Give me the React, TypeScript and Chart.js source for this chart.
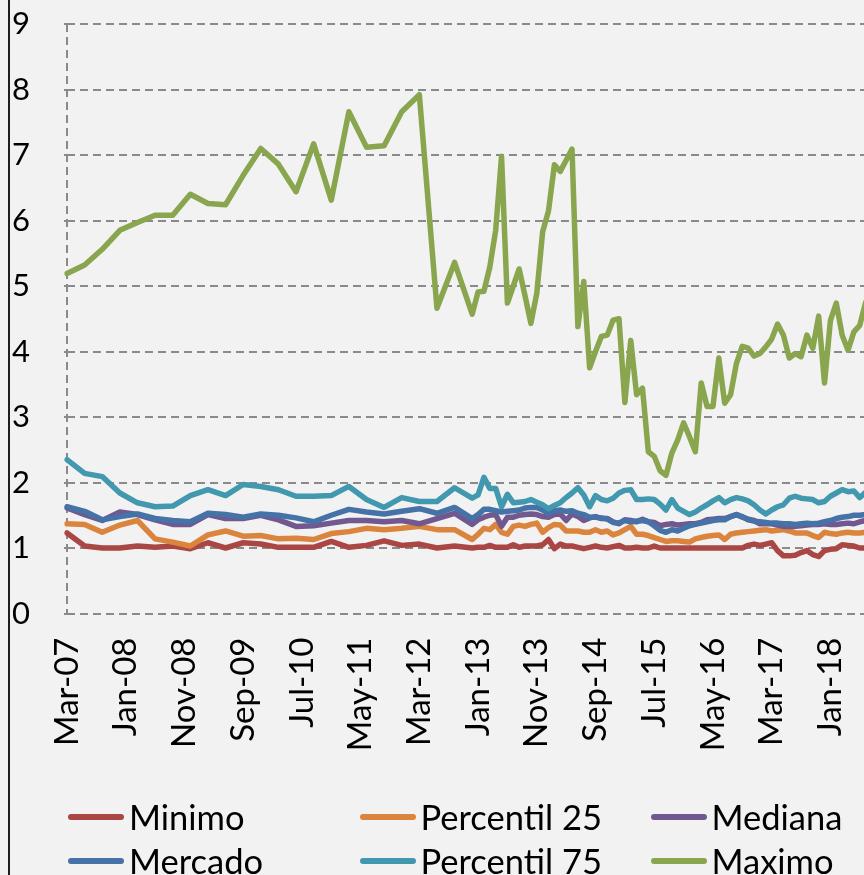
import React, { useEffect, useRef } from "react";
import { Chart, registerables } from "chart.js";

Chart.register(...registerables);

const MONTH_NAMES = ["Jan", "Feb", "Mar", "Apr", "May", "Jun", "Jul", "Aug", "Sep", "Oct", "Nov", "Dec"];
const START_MONTH = 2; // Mar
const START_YEAR = 2007;
const MONTH_COUNT = 137; // Mar-07 .. Jul-18
const QUARTERLY_LAST = 69; // Dec-12: quarterly observations up to here, monthly after
const TICK_LABELS = ["Mar-07", "Jan-08", "Nov-08", "Sep-09", "Jul-10", "May-11", "Mar-12", "Jan-13", "Nov-13", "Sep-14", "Jul-15", "May-16", "Mar-17", "Jan-18"];
const Y_TICKS = [0, 1, 2, 3, 4, 5, 6, 7, 8, 9];

const SERIES_NAMES = ["Minimo", "Percentil 25", "Mediana", "Mercado", "Percentil 75", "Maximo"];
const SERIES_COLORS = ["#AA4643", "#DB843D", "#71588F", "#4572A7", "#4198AF", "#89A54E"];

// quarterly values Mar-07 .. Dec-12 (every 3rd month)
const minimoQ = [1.23, 1.03, 1.0, 1.0, 1.03, 1.01, 1.03, 0.99, 1.08, 1.0, 1.08, 1.06, 1.01, 1.01, 1.01, 1.1, 1.01, 1.04, 1.11, 1.04, 1.06, 1.0, 1.03, 1.0];
const p25Q = [1.37, 1.36, 1.24, 1.35, 1.42, 1.14, 1.09, 1.03, 1.2, 1.26, 1.18, 1.19, 1.14, 1.15, 1.13, 1.22, 1.25, 1.3, 1.28, 1.3, 1.33, 1.28, 1.28, 1.13];
const medianaQ = [1.61, 1.51, 1.42, 1.55, 1.51, 1.43, 1.36, 1.36, 1.51, 1.45, 1.45, 1.5, 1.43, 1.33, 1.34, 1.38, 1.42, 1.42, 1.4, 1.42, 1.37, 1.45, 1.53, 1.36];
const mercadoQ = [1.63, 1.56, 1.43, 1.48, 1.52, 1.45, 1.42, 1.4, 1.53, 1.51, 1.47, 1.52, 1.5, 1.46, 1.4, 1.5, 1.59, 1.55, 1.52, 1.56, 1.6, 1.53, 1.62, 1.45];
const p75Q = [2.35, 2.14, 2.09, 1.84, 1.69, 1.63, 1.64, 1.8, 1.89, 1.8, 1.97, 1.94, 1.89, 1.79, 1.79, 1.8, 1.94, 1.74, 1.62, 1.77, 1.71, 1.71, 1.92, 1.76];
const maximoQ = [5.19, 5.32, 5.56, 5.85, 5.97, 6.08, 6.08, 6.4, 6.26, 6.24, 6.69, 7.1, 6.86, 6.44, 7.17, 6.31, 7.66, 7.12, 7.14, 7.66, 7.92, 4.66, 5.36, 4.57];

// monthly values Jan-13 .. Jul-18
const minimoM = [1.01, 1.01, 1.04, 1.01, 1.01, 1.01, 1.05, 1.01, 1.03, 1.03,
  1.03, 1.05, 1.13, 0.99, 1.06, 1.03, 1.03, 1.01, 0.99, 1.01,
  1.03, 1.01, 1.0, 1.02, 1.04, 1.0, 1.0, 1.01, 1.0, 1.0,
  1.03, 1.0, 1.0, 1.0, 1.0, 1.0, 1.0, 1.0, 1.0, 1.0,
  1.0, 1.0, 1.0, 1.0, 1.0, 1.0, 1.04, 1.06, 1.04, 1.06,
  1.08, 0.96, 0.88, 0.88, 0.89, 0.93, 0.96, 0.9, 0.87, 0.96,
  0.98, 0.99, 1.05, 1.04, 1.03, 1.0, 1.0];
const p25M = [1.21, 1.3, 1.28, 1.36, 1.24, 1.21, 1.33, 1.35, 1.33, 1.36,
  1.38, 1.24, 1.31, 1.36, 1.35, 1.26, 1.26, 1.26, 1.24, 1.24,
  1.28, 1.24, 1.26, 1.2, 1.23, 1.28, 1.33, 1.21, 1.21, 1.19,
  1.16, 1.13, 1.1, 1.11, 1.11, 1.1, 1.09, 1.14, 1.16, 1.18,
  1.19, 1.2, 1.13, 1.21, 1.23, 1.24, 1.25, 1.26, 1.27, 1.28,
  1.26, 1.27, 1.28, 1.26, 1.23, 1.23, 1.23, 1.19, 1.16, 1.24,
  1.22, 1.21, 1.23, 1.24, 1.23, 1.23, 1.24];
const medianaM = [1.43, 1.47, 1.5, 1.51, 1.33, 1.47, 1.47, 1.5, 1.51, 1.52,
  1.51, 1.48, 1.47, 1.51, 1.52, 1.42, 1.52, 1.48, 1.42, 1.46,
  1.48, 1.45, 1.45, 1.4, 1.37, 1.43, 1.42, 1.4, 1.44, 1.4,
  1.39, 1.34, 1.36, 1.37, 1.35, 1.36, 1.37, 1.37, 1.39, 1.43,
  1.44, 1.45, 1.45, 1.48, 1.51, 1.47, 1.44, 1.42, 1.37, 1.37,
  1.37, 1.35, 1.33, 1.33, 1.33, 1.34, 1.35, 1.36, 1.36, 1.37,
  1.36, 1.36, 1.37, 1.38, 1.37, 1.4, 1.42];
const mercadoM = [1.51, 1.59, 1.59, 1.57, 1.55, 1.56, 1.57, 1.58, 1.61, 1.62,
  1.62, 1.58, 1.53, 1.57, 1.58, 1.56, 1.57, 1.53, 1.51, 1.47,
  1.47, 1.46, 1.44, 1.39, 1.38, 1.42, 1.4, 1.41, 1.42, 1.4,
  1.34, 1.27, 1.24, 1.28, 1.26, 1.3, 1.34, 1.36, 1.38, 1.4,
  1.42, 1.43, 1.43, 1.48, 1.51, 1.48, 1.43, 1.41, 1.4, 1.39,
  1.38, 1.38, 1.37, 1.37, 1.36, 1.37, 1.38, 1.37, 1.38, 1.4,
  1.42, 1.45, 1.47, 1.48, 1.5, 1.5, 1.51];
const p75M = [1.81, 2.08, 1.91, 1.91, 1.63, 1.82, 1.69, 1.7, 1.71, 1.74,
  1.7, 1.66, 1.6, 1.65, 1.69, 1.77, 1.84, 1.92, 1.81, 1.63,
  1.8, 1.74, 1.72, 1.76, 1.84, 1.88, 1.89, 1.74, 1.74, 1.75,
  1.74, 1.67, 1.58, 1.74, 1.61, 1.56, 1.51, 1.55, 1.61, 1.66,
  1.72, 1.77, 1.69, 1.74, 1.77, 1.75, 1.72, 1.66, 1.58, 1.52,
  1.58, 1.63, 1.66, 1.76, 1.79, 1.76, 1.75, 1.74, 1.69, 1.71,
  1.79, 1.84, 1.89, 1.86, 1.87, 1.77, 1.85];
const maximoM = [4.91, 4.92, 5.29, 5.85, 6.98, 4.74, 5.0, 5.26, 4.85, 4.43,
  4.89, 5.83, 6.15, 6.85, 6.75, 6.92, 7.09, 4.38, 5.07, 3.75,
  4.0, 4.23, 4.25, 4.48, 4.5, 3.22, 4.17, 3.34, 3.44, 2.47,
  2.4, 2.18, 2.11, 2.45, 2.65, 2.91, 2.7, 2.47, 3.52, 3.16,
  3.16, 3.9, 3.21, 3.34, 3.82, 4.08, 4.05, 3.93, 3.97, 4.07,
  4.19, 4.42, 4.25, 3.9, 3.97, 3.92, 4.25, 4.05, 4.54, 3.52,
  4.47, 4.74, 4.25, 4.02, 4.3, 4.4, 4.75];

const SERIES_Q = [minimoQ, p25Q, medianaQ, mercadoQ, p75Q, maximoQ];
const SERIES_M = [minimoM, p25M, medianaM, mercadoM, p75M, maximoM];

const FONT = "Lato";
const CANVAS_W = 894;
const CANVAS_H = 875;

function buildCategories(): string[] {
  const out: string[] = [];
  for (let i = 0; i < MONTH_COUNT; i++) {
    const m = (START_MONTH + i) % 12;
    const y = START_YEAR + Math.floor((START_MONTH + i) / 12);
    out.push(MONTH_NAMES[m] + "-" + String(y % 100).padStart(2, "0"));
  }
  return out;
}

function buildSeries(q: number[], m: number[]): (number | null)[] {
  const out: (number | null)[] = [];
  for (let i = 0; i < MONTH_COUNT; i++) {
    if (i <= QUARTERLY_LAST) out.push(i % 3 === 0 ? q[i / 3] : null);
    else out.push(m[i - QUARTERLY_LAST - 1] ?? null);
  }
  return out;
}

export default function App() {
  const ref = useRef<HTMLCanvasElement | null>(null);

  useEffect(() => {
    if (!ref.current) return;
    const categories = buildCategories();
    const datasets = SERIES_NAMES.map((name, k) => ({
      label: name,
      data: buildSeries(SERIES_Q[k], SERIES_M[k]),
      borderColor: SERIES_COLORS[k],
      backgroundColor: SERIES_COLORS[k],
      borderWidth: 5.5,
      pointRadius: 0,
      pointHoverRadius: 0,
      tension: 0,
      spanGaps: true,
      borderJoinStyle: "round" as const,
      borderCapStyle: "round" as const,
      order: SERIES_NAMES.length - k,
    }));
    const chart = new Chart(ref.current, {
      type: "line",
      data: { labels: categories, datasets },
      options: {
        animation: false,
        responsive: false,
        maintainAspectRatio: false,
        layout: { padding: { left: 12, top: 24, right: 0, bottom: 0 } },
        plugins: { legend: { display: false }, tooltip: { enabled: false } },
        scales: {
          x: {
            type: "category",
            offset: false,
            border: { display: false, dash: [8, 5] },
            grid: {
              display: true,
              drawTicks: false,
              lineWidth: 2,
              color: (c: any) => (c.index === 0 ? "#8a8a8a" : "rgba(0,0,0,0)"),
            },
            ticks: {
              autoSkip: false,
              minRotation: 90,
              maxRotation: 90,
              padding: 24,
              color: "#000",
              font: { family: FONT, size: 33 },
              callback: function (this: any, _v: any, i: number) {
                const lab = categories[i];
                return TICK_LABELS.includes(lab) ? lab : null;
              },
            },
            afterFit: (s: any) => {
              s.height = CANVAS_H - 613.5;
            },
          },
          y: {
            min: 0,
            max: 9,
            border: { display: false, dash: [8, 5] },
            grid: { color: "#8a8a8a", lineWidth: 2, drawTicks: true, tickLength: 3 },
            afterBuildTicks: (s: any) => {
              s.ticks = Y_TICKS.map((v) => ({ value: v }));
            },
            ticks: {
              crossAlign: "far",
              color: "#000",
              font: { family: FONT, size: 31 },
            },
            afterFit: (s: any) => {
              s.width = 55;
            },
          },
        },
      },
    });
    return () => chart.destroy();
  }, []);

  const colX = [68, 359.5, 650.5];
  const rowY = [817, 861];

  return (
    <div style={{ position: "fixed", left: 0, top: 0, width: 864, height: 875, overflow: "hidden", background: "#f2f2f2" }}>
      <canvas ref={ref} width={CANVAS_W} height={CANVAS_H} style={{ position: "absolute", left: 0, top: 0, width: CANVAS_W, height: CANVAS_H }} />
      <div style={{ position: "absolute", left: 8, top: 0, width: 2, height: 875, background: "#1e1e1e" }} />
      {SERIES_NAMES.map((name, k) => {
        const col = k % 3;
        const row = Math.floor(k / 3);
        return (
          <div key={name} style={{ position: "absolute", left: colX[col], top: rowY[row] - 25, height: 50, display: "flex", alignItems: "center", whiteSpace: "nowrap" }}>
            <div style={{ width: 56, height: 6, borderRadius: 3, background: SERIES_COLORS[k] }} />
            <span style={{ marginLeft: 5, fontFamily: FONT, fontSize: 34.5, color: "#000", lineHeight: "50px" }}>{name}</span>
          </div>
        );
      })}
    </div>
  );
}
